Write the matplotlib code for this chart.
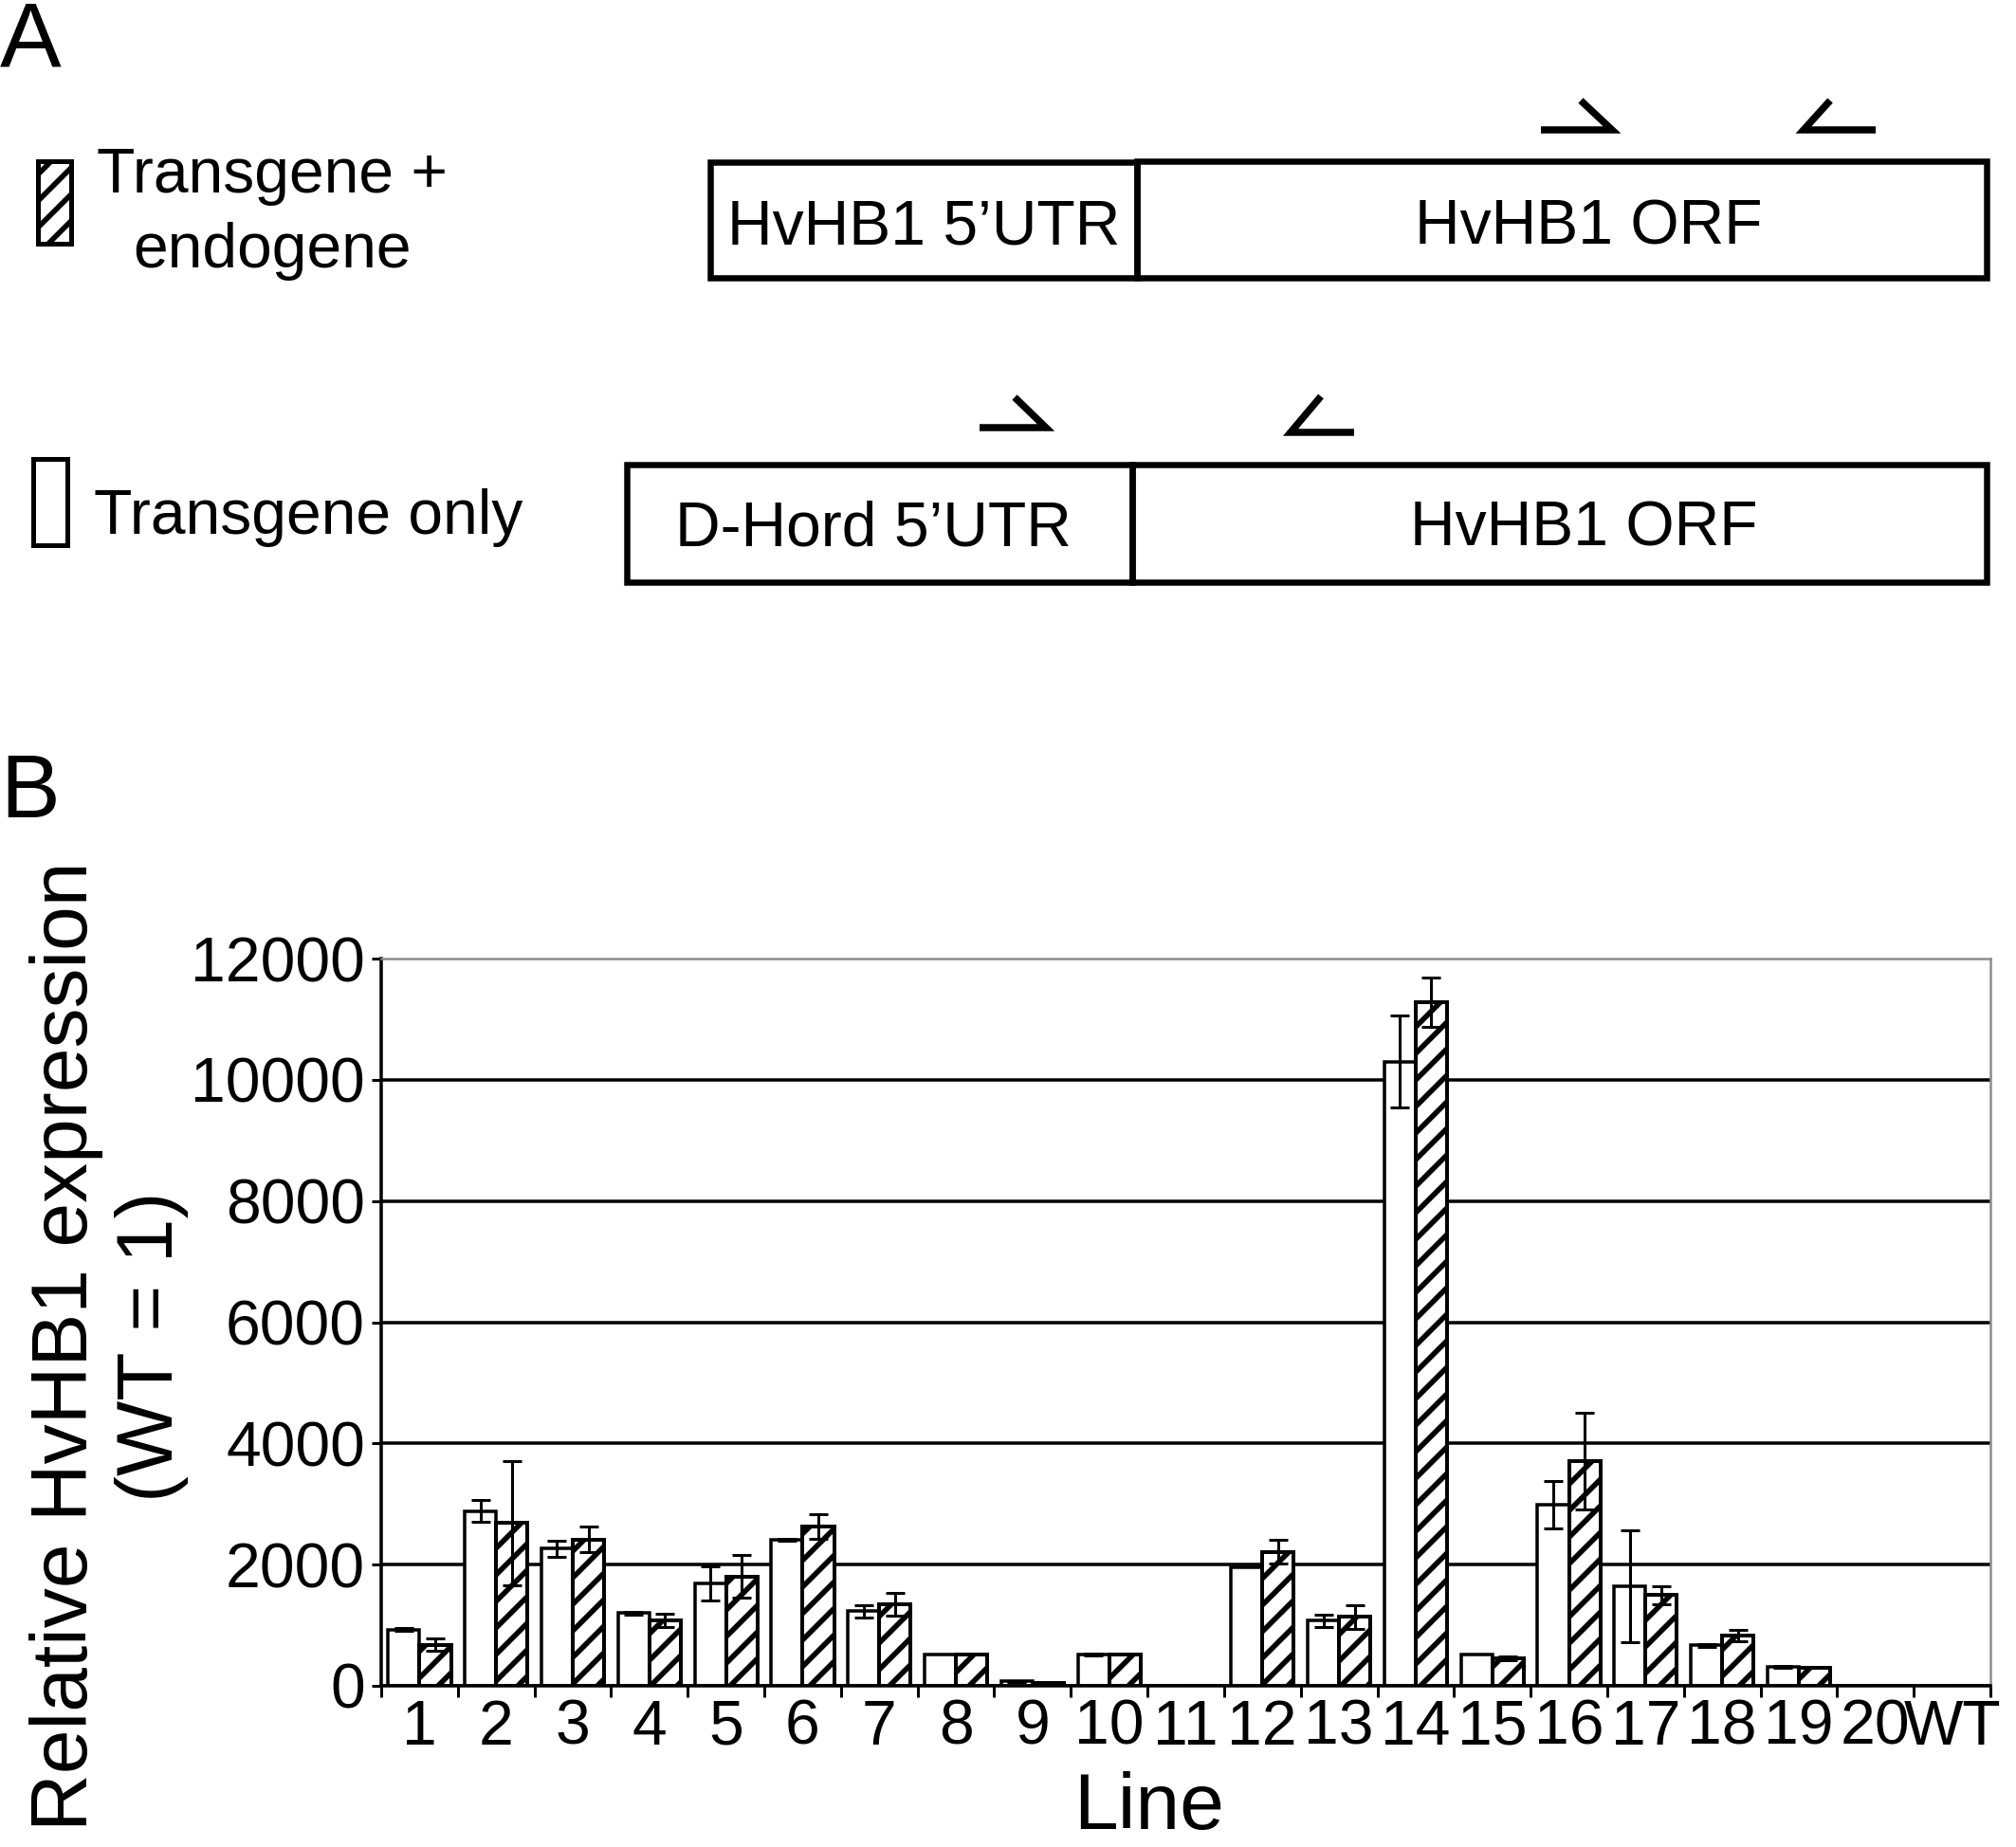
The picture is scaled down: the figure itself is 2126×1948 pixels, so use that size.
import matplotlib
matplotlib.use("Agg")
import matplotlib.pyplot as plt
from matplotlib.patches import Rectangle
import numpy as np

plt.rcParams['font.family'] = ['Liberation Sans', 'DejaVu Sans']
plt.rcParams['hatch.linewidth'] = 2.4

# ---------------- data ----------------
lines = ['1', '2', '3', '4', '5', '6', '7', '8', '9', '10', '11', '12', '13',
         '14', '15', '16', '17', '18', '19', '20', 'WT']
transgene_only = [930, 2880, 2265, 1200, 1695, 2405, 1230, 510, 75, 510, 0,
                  1950, 1075, 10300, 510, 2990, 1645, 670, 315, 0, 0]
transgene_only_err = [20, 180, 130, 25, 280, 15, 105, 0, 10, 15, 0,
                      0, 105, 760, 0, 390, 920, 25, 10, 0, 0]
transgene_endo = [680, 2685, 2415, 1075, 1805, 2625, 1345, 510, 40, 510, 0,
                  2210, 1135, 11280, 460, 3710, 1495, 825, 305, 0, 0]
transgene_endo_err = [100, 1020, 210, 110, 350, 200, 195, 0, 0, 0, 0,
                      195, 195, 410, 30, 800, 150, 95, 15, 0, 0]
yticks = [0, 2000, 4000, 6000, 8000, 10000, 12000]

DPI = 168
W, H = 2126, 1948
def pt(px):
    return px * 72.0 / DPI

HATCH = '//'

fig = plt.figure(figsize=(W / DPI, H / DPI), dpi=DPI)

# ---------------- panel A (schematic, pixel coordinates) ----------------
axA = fig.add_axes([0, 0, 1, 1])
axA.set_xlim(0, W)
axA.set_ylim(H, 0)
axA.axis('off')

box_lw = pt(6.5)
def box(x0, x1, y0, y1):
    axA.add_patch(Rectangle((x0, y0), x1 - x0, y1 - y0, fill=False,
                            edgecolor='black', linewidth=box_lw,
                            joinstyle='miter'))

# construct 1
box(749, 1199, 171, 293)
box(1199, 2095, 170, 293)
# construct 2
box(661, 1194, 490, 614)
box(1194, 2095, 490, 614)

txt = pt(66)
axA.text(974, 257, 'HvHB1 5’UTR', ha='center', va='baseline', fontsize=txt)
axA.text(1675, 257, 'HvHB1 ORF', ha='center', va='baseline', fontsize=txt)
axA.text(921, 576, 'D-Hord 5’UTR', ha='center', va='baseline', fontsize=txt)
axA.text(1670, 576, 'HvHB1 ORF', ha='center', va='baseline', fontsize=txt)

# primers
plw = pt(7.5)
def primer(xa, xb, y, xt, yt):
    axA.plot([xa, xb, xt], [y, y, yt], color='black', lw=plw,
             solid_capstyle='butt', solid_joinstyle='miter')
primer(1625, 1700, 137, 1667, 106)
primer(1978, 1902, 137, 1930, 106)
primer(1033, 1103, 451, 1070, 419)
primer(1428, 1361, 456, 1393, 418)

# legend icons
axA.add_patch(Rectangle((40, 170), 35, 87, facecolor='white', edgecolor='black',
                        hatch=HATCH, linewidth=pt(5)))
axA.add_patch(Rectangle((35, 484), 36, 91, facecolor='white', edgecolor='black',
                        linewidth=pt(5)))
axA.text(287, 203, 'Transgene +', ha='center', va='baseline', fontsize=txt)
axA.text(287, 282, 'endogene', ha='center', va='baseline', fontsize=txt)
axA.text(99, 563, 'Transgene only', ha='left', va='baseline', fontsize=txt)

axA.text(0, 70, 'A', ha='left', va='baseline', fontsize=pt(97))
axA.text(0, 862, 'B', ha='left', va='baseline', fontsize=pt(94))

# ---------------- panel B (bar chart) ----------------
left, right, top, bottom = 402, 2099, 1011, 1778
ax = fig.add_axes([left / W, 1 - bottom / H, (right - left) / W, (bottom - top) / H])

x = np.arange(len(lines))
bw = 0.41
ax.bar(x - bw / 2, transgene_only, width=bw, facecolor='white',
       edgecolor='black', linewidth=pt(3.5), zorder=2)
ax.bar(x + bw / 2, transgene_endo, width=bw, facecolor='white',
       edgecolor='black', linewidth=pt(4), hatch=HATCH, zorder=2)

ekw = dict(fmt='none', ecolor='black', elinewidth=pt(3), capsize=pt(10),
           capthick=pt(3), zorder=3)
to = np.array(transgene_only, float); toe = np.array(transgene_only_err, float)
te = np.array(transgene_endo, float); tee = np.array(transgene_endo_err, float)
m1 = toe > 0
m2 = tee > 0
ax.errorbar(x[m1] - bw / 2, to[m1], yerr=toe[m1], **ekw)
ax.errorbar(x[m2] + bw / 2, te[m2], yerr=tee[m2], **ekw)

ax.set_xlim(-0.5, len(lines) - 0.5)
ax.set_ylim(0, 12000)
ax.set_yticks(yticks)
ax.set_yticklabels([str(v) for v in yticks])
ax.set_xticks(x)
ax.set_xticklabels(lines)
ax.set_xticks(np.arange(len(lines) + 1) - 0.5, minor=True)

ax.tick_params(axis='y', direction='out', length=pt(10), width=pt(3),
               pad=pt(7), labelsize=pt(66))
ax.tick_params(axis='x', which='major', length=0, pad=pt(14), labelsize=pt(66))
ax.tick_params(axis='x', which='minor', direction='out', length=pt(12),
               width=pt(3))

ax.set_axisbelow(True)
ax.yaxis.grid(True, color='black', linewidth=pt(3.5))
ax.get_ygridlines()[-1].set_visible(False)

for s in ['left', 'bottom']:
    ax.spines[s].set_linewidth(pt(3.5))
    ax.spines[s].set_color('black')
for s in ['top', 'right']:
    ax.spines[s].set_linewidth(pt(2.5))
    ax.spines[s].set_color('#8c8c8c')

fig.text(115 / W, 1 - 1420 / H, 'Relative HvHB1 expression\n(WT = 1)',
         rotation=90, ha='center', va='center', multialignment='center',
         fontsize=pt(84), linespacing=1.19)
fig.text(1212 / W, 1 - 1929 / H, 'Line', ha='center', va='baseline',
         fontsize=pt(84))

fig.savefig('out.png', dpi=DPI)
